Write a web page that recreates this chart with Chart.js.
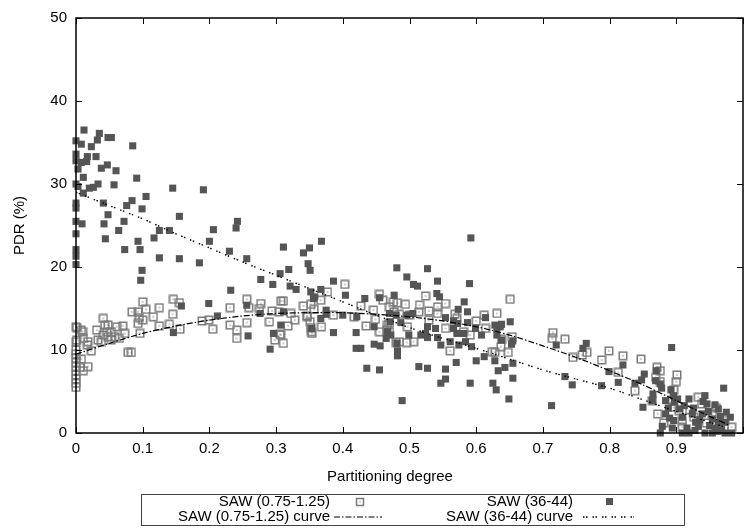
<!DOCTYPE html>
<html>
<head>
<meta charset="utf-8">
<script src="https://cdn.jsdelivr.net/npm/chart.js@4/dist/chart.umd.min.js"></script>
<style>
html, body { margin: 0; padding: 0; background: #fff; }
#wrap { position: relative; width: 750px; height: 531px; font-family: "Liberation Sans", Arial, sans-serif; font-size: 15px; color: #000; }
#chart { position: absolute; left: 0; top: 0; }
#xtitle { position: absolute; left: 290px; width: 200px; top: 468px; text-align: center; line-height: 15px; }
#legend { position: absolute; left: 141px; top: 494px; width: 544px; height: 32px; border: 1px solid #444; box-sizing: border-box; }
.item { position: absolute; white-space: nowrap; line-height: 15px; }
#samples { position: absolute; left: 0; top: 0; }
</style>
</head>
<body>
<div id="wrap">
  <canvas id="chart" width="750" height="531"></canvas>
  <div id="xtitle">Partitioning degree</div>
  <div id="legend"></div>
  <div class="item" style="right:420px;top:493px">SAW (0.75-1.25)</div>
  <div class="item" style="right:420px;top:508px">SAW (0.75-1.25) curve</div>
  <div class="item" style="right:177px;top:493px">SAW (36-44)</div>
  <div class="item" style="right:177px;top:508px">SAW (36-44) curve</div>
  <svg id="samples" width="750" height="531">
    <rect x="356.5" y="498.5" width="7" height="7" fill="none" stroke="#7a7a7a" stroke-width="1.5"/>
    <rect x="359.5" y="501.5" width="1" height="1" fill="#333"/>
    <line x1="334" y1="517" x2="382" y2="517" stroke="#000" stroke-width="1.2" stroke-dasharray="6 2 1.5 2"/>
    <rect x="606" y="498" width="7" height="7" fill="#555"/>
    <line x1="583" y1="517" x2="634" y2="517" stroke="#000" stroke-width="1.4" stroke-dasharray="1.5 1.5 1.5 5"/>
  </svg>
</div>
<script>
// measured points, [partitioning degree, PDR %]
const sawLowPoints = [
  [0,12.8],[0,11.0],[0,10.0],[0,9.5],[0,9.0],[0,8.5],[0,8.0],[0,7.5],[0,7.0],[0,6.5],[0,6.0],[0,5.5],
  [0.001,12.7],[0.001,11.2],[0.006,7.9],[0.008,12.4],[0.008,8.9],[0.010,12.2],[0.011,11.4],[0.011,7.5],
  [0.017,10.6],[0.018,11.0],[0.018,8.0],[0.023,9.9],[0.031,12.4],[0.033,11.2],[0.038,11.0],[0.041,13.8],
  [0.041,11.8],[0.043,13.0],[0.046,12.2],[0.048,13.0],[0.048,11.6],[0.053,12.2],[0.053,11.2],[0.058,11.6],
  [0.061,12.8],[0.065,11.4],[0.070,12.9],[0.073,12.0],[0.078,9.7],[0.083,9.7],[0.084,14.6],[0.093,14.6],
  [0.093,13.2],[0.095,13.9],[0.096,12.0],[0.100,15.8],[0.100,13.6],[0.105,14.9],[0.116,14.0],[0.125,15.1],
  [0.125,12.9],[0.140,13.1],[0.145,14.3],[0.146,16.1],[0.155,15.7],[0.156,12.5],[0.189,13.5],[0.199,13.6],
  [0.205,12.5],[0.231,15.1],[0.231,13.0],[0.241,12.4],[0.241,11.4],[0.256,16.1],[0.256,13.3],[0.259,15.1],
  [0.275,15.0],[0.277,15.6],[0.290,13.4],[0.294,14.7],[0.298,11.2],[0.304,14.6],[0.306,11.9],[0.307,15.9],
  [0.307,11.8],[0.311,15.9],[0.311,10.8],[0.318,12.9],[0.322,14.4],[0.328,13.6],[0.341,15.3],[0.346,14.1],
  [0.347,14.0],[0.351,13.4],[0.352,15.5],[0.352,12.7],[0.353,12.2],[0.354,12.0],[0.357,14.9],[0.367,16.0],
  [0.368,12.8],[0.377,17.0],[0.386,14.2],[0.403,17.9],[0.417,14.0],[0.427,15.3],[0.435,12.9],[0.446,14.8],
  [0.449,13.7],[0.455,16.7],[0.455,12.2],[0.460,16.0],[0.466,12.4],[0.467,13.0],[0.470,15.2],[0.470,13.2],
  [0.470,12.2],[0.476,15.8],[0.477,14.6],[0.480,10.9],[0.482,15.7],[0.485,14.3],[0.485,11.0],[0.494,15.5],
  [0.496,10.9],[0.497,12.8],[0.500,14.2],[0.506,11.0],[0.514,14.6],[0.515,15.4],[0.524,16.5],[0.529,14.7],
  [0.529,13.6],[0.542,15.2],[0.542,14.4],[0.554,15.6],[0.554,12.6],[0.561,9.9],[0.568,14.3],[0.571,13.8],
  [0.581,12.2],[0.591,11.8],[0.600,13.5],[0.612,14.2],[0.614,12.6],[0.624,9.8],[0.628,9.7],[0.631,14.4],
  [0.637,10.4],[0.638,11.3],[0.648,9.7],[0.651,16.1],[0.654,11.6],[0.714,11.4],[0.715,12.1],[0.733,11.3],
  [0.745,9.1],[0.759,9.4],[0.766,9.7],[0.788,8.8],[0.799,9.9],[0.813,7.3],[0.820,9.3],[0.838,5.1],
  [0.847,8.9],[0.864,3.9],[0.869,6.7],[0.871,7.9],[0.872,2.3],[0.876,7.5],[0.876,6.2],[0.881,1.2],
  [0.894,4.0],[0.896,5.2],[0.896,3.1],[0.900,6.2],[0.901,7.0],[0.904,2.7],[0.909,1.5],[0.909,0.7],
  [0.920,2.8],[0.926,1.9],[0.933,4.3],[0.938,3.5],[0.945,1.2],[0.954,2.3],[0.960,3.0],[0.965,0.5],
  [0.973,1.5],[0.983,0.7]
];

const sawHighPoints = [
  [0,35.2],[0,33.6],[0,32.8],[0,30.0],[0,27.7],[0,27.1],[0,25.5],[0,24.0],[0,22.1],[0,21.3],[0,20.3],
  [0.003,31.8],[0.003,29.7],[0.008,34.8],[0.008,32.6],[0.009,25.2],[0.011,30.8],[0.011,28.9],[0.012,36.5],
  [0.016,32.7],[0.017,33.3],[0.020,29.5],[0.023,34.5],[0.026,29.6],[0.030,33.3],[0.032,35.3],[0.033,30.0],
  [0.035,36.1],[0.038,31.9],[0.041,27.7],[0.042,25.2],[0.044,23.4],[0.047,32.3],[0.048,35.6],[0.048,26.3],
  [0.053,35.6],[0.057,29.9],[0.060,31.6],[0.064,24.4],[0.072,25.5],[0.073,22.1],[0.076,27.4],[0.084,28.0],
  [0.085,34.6],[0.091,30.7],[0.093,23.1],[0.096,22.1],[0.097,18.4],[0.099,27.0],[0.099,19.6],[0.105,28.5],
  [0.117,23.5],[0.125,24.4],[0.125,21.1],[0.140,24.4],[0.145,29.5],[0.146,12.1],[0.155,26.1],[0.155,21.0],
  [0.158,15.3],[0.185,20.5],[0.191,29.3],[0.199,15.6],[0.200,23.1],[0.206,24.5],[0.212,14.1],[0.230,21.9],
  [0.232,17.2],[0.240,24.7],[0.242,25.5],[0.256,21.0],[0.256,15.4],[0.258,11.7],[0.276,14.4],[0.277,18.5],
  [0.291,10.1],[0.295,17.9],[0.296,12.0],[0.306,19.2],[0.307,13.0],[0.311,22.4],[0.311,14.6],[0.319,19.7],
  [0.321,17.7],[0.330,17.3],[0.341,21.7],[0.348,20.4],[0.350,22.3],[0.351,19.6],[0.352,17.0],[0.353,12.6],
  [0.356,16.2],[0.358,16.4],[0.367,17.3],[0.367,13.8],[0.368,23.1],[0.375,14.8],[0.375,14.3],[0.386,18.3],
  [0.386,12.1],[0.400,14.2],[0.404,16.6],[0.420,12.1],[0.420,10.2],[0.421,14.0],[0.427,10.2],[0.433,16.2],
  [0.436,7.8],[0.447,12.8],[0.447,10.7],[0.455,16.3],[0.455,7.6],[0.456,10.5],[0.465,11.4],[0.467,12.2],
  [0.470,14.4],[0.471,13.4],[0.472,11.8],[0.477,16.6],[0.480,14.2],[0.481,19.9],[0.481,10.8],[0.482,9.9],
  [0.482,9.3],[0.487,13.3],[0.489,3.9],[0.496,18.8],[0.496,14.2],[0.499,11.8],[0.505,14.4],[0.506,17.9],
  [0.512,17.7],[0.514,8.0],[0.517,11.8],[0.524,12.0],[0.527,19.8],[0.527,12.8],[0.527,11.5],[0.527,7.8],
  [0.539,12.6],[0.541,16.8],[0.542,18.3],[0.542,11.5],[0.545,16.4],[0.547,10.6],[0.547,6.0],[0.554,13.9],
  [0.554,7.7],[0.554,6.5],[0.561,11.0],[0.566,13.5],[0.566,12.6],[0.570,8.5],[0.571,12.0],[0.572,13.2],
  [0.573,14.9],[0.574,10.6],[0.581,12.0],[0.582,15.8],[0.584,11.0],[0.587,14.6],[0.587,13.3],[0.590,18.0],
  [0.591,6.0],[0.592,23.5],[0.593,10.4],[0.599,12.6],[0.600,8.7],[0.608,11.8],[0.612,9.2],[0.614,13.9],
  [0.625,6.0],[0.628,13.0],[0.628,8.7],[0.630,5.2],[0.631,12.6],[0.631,11.8],[0.633,7.5],[0.636,12.8],
  [0.638,13.1],[0.638,11.2],[0.643,7.9],[0.649,4.1],[0.651,13.4],[0.653,10.7],[0.655,11.1],[0.655,8.4],
  [0.655,6.6],[0.713,3.3],[0.720,10.6],[0.733,6.8],[0.744,5.8],[0.760,10.2],[0.765,10.8],[0.788,5.7],
  [0.799,7.4],[0.813,6.1],[0.820,8.2],[0.838,6.0],[0.848,6.4],[0.850,3.1],[0.852,7.1],[0.864,3.9],
  [0.865,4.7],[0.869,6.3],[0.870,7.5],[0.876,5.9],[0.878,5.4],[0.884,3.9],[0.884,2.3],[0.888,3.0],
  [0.890,1.8],[0.892,5.2],[0.893,10.3],[0.896,4.5],[0.896,1.5],[0.897,3.7],[0.902,4.1],[0.905,2.9],
  [0.909,1.9],[0.912,3.3],[0.919,4.1],[0.924,2.3],[0.926,3.0],[0.929,1.3],[0.935,1.6],[0.939,2.3],
  [0.940,3.8],[0.943,4.5],[0.946,3.5],[0.948,2.6],[0.950,0.9],[0.954,1.7],[0.958,3.4],[0.963,2.9],
  [0.963,1.2],[0.966,2.0],[0.971,5.4],[0.973,1.3],[0.975,2.5],[0.981,1.9],
  [0.876,0],[0.909,0],[0.919,0],[0.943,0],[0.954,0],[0.973,0],[0.983,0],
  [0.879,0.8],[0.894,0.6],[0.916,0.6],[0.928,0.3],[0.933,0.8],[0.958,0.6],[0.962,0.2],[0.968,0.4]
];

// fitted curves
const curveX    = [0, 0.05, 0.1, 0.15, 0.2, 0.25, 0.3, 0.35, 0.4, 0.45, 0.5, 0.55, 0.6, 0.65, 0.7, 0.75, 0.8, 0.85, 0.9, 0.95, 0.978];
const curveLowY = [9.5, 10.8, 12.0, 12.9, 13.6, 14.1, 14.4, 14.5, 14.5, 14.3, 14.0, 13.5, 12.8, 11.8, 10.5, 9.1, 7.5, 5.8, 3.9, 2.0, 1.0];
const curveHighY = [29.0, 27.4, 25.8, 24.0, 22.3, 20.6, 19.0, 17.4, 15.8, 14.2, 12.7, 11.4, 10.2, 8.9, 7.6, 6.5, 5.4, 4.0, 2.6, 1.3, 0.6];

const xTicksMax = 1;
const yTicksMax = 50;

function makeOpenMarker() {
    const c = document.createElement('canvas');
    c.width = 10; c.height = 10;
    const g = c.getContext('2d');
    g.strokeStyle = '#7a7a7a';
    g.lineWidth = 1.5;
    g.strokeRect(1.25, 1.25, 7.5, 7.5);
    g.fillStyle = '#333';
    g.fillRect(4.5, 4.5, 1, 1);
    return c;
}

// gnuplot style border with inward ticks on all four sides
const framePlugin = {
    id: 'frame',
    afterDatasetsDraw(chart) {
        const { ctx, chartArea: a, scales: { x, y } } = chart;
        ctx.save();
        ctx.strokeStyle = '#000';
        ctx.lineWidth = 1;
        ctx.beginPath();
        x.ticks.forEach(t => {
            const px = Math.round(x.getPixelForValue(t.value)) + 0.5;
            ctx.moveTo(px, a.bottom); ctx.lineTo(px, a.bottom - 6);
            ctx.moveTo(px, a.top); ctx.lineTo(px, a.top + 6);
        });
        y.ticks.forEach(t => {
            const py = Math.round(y.getPixelForValue(t.value)) + 0.5;
            ctx.moveTo(a.left, py); ctx.lineTo(a.left + 6, py);
            ctx.moveTo(a.right, py); ctx.lineTo(a.right - 6, py);
        });
        ctx.stroke();
        ctx.lineWidth = 1.5;
        ctx.strokeRect(a.left, a.top, a.right - a.left, a.bottom - a.top);
        ctx.restore();
    }
};

Chart.defaults.font.family = '"Liberation Sans", Arial, sans-serif';
Chart.defaults.font.size = 15;
Chart.defaults.color = '#000';

const ctx = document.getElementById('chart').getContext('2d');
new Chart(ctx, {
    type: 'scatter',
    data: {
        datasets: [
            {
                label: 'SAW (36-44) curve',
                type: 'line',
                data: curveX.map((x, i) => ({ x, y: curveHighY[i] })),
                borderColor: '#000',
                borderWidth: 1.4,
                borderDash: [1.5, 1.5, 1.5, 5],
                pointRadius: 0,
                fill: false,
                tension: 0.3,
                order: 0,
                clip: false
            },
            {
                label: 'SAW (0.75-1.25) curve',
                type: 'line',
                data: curveX.map((x, i) => ({ x, y: curveLowY[i] })),
                borderColor: '#000',
                borderWidth: 1.2,
                borderDash: [6, 2, 1.5, 2],
                pointRadius: 0,
                fill: false,
                tension: 0.3,
                order: 1,
                clip: false
            },
            {
                label: 'SAW (36-44)',
                data: sawHighPoints.map(p => ({ x: p[0], y: p[1] })),
                pointStyle: 'rect',
                pointRadius: 5,
                pointBackgroundColor: '#555',
                pointBorderWidth: 0,
                order: 2,
                clip: false
            },
            {
                label: 'SAW (0.75-1.25)',
                data: sawLowPoints.map(p => ({ x: p[0], y: p[1] })),
                pointStyle: makeOpenMarker(),
                pointRadius: 4,
                order: 3,
                clip: false
            }
        ]
    },
    options: {
        responsive: false,
        animation: false,
        events: [],
        layout: { padding: { top: 12, right: 2, bottom: 0, left: 0 }, autoPadding: false },
        plugins: { legend: { display: false }, tooltip: { enabled: false } },
        scales: {
            x: {
                type: 'linear',
                min: 0,
                max: xTicksMax,
                grid: { display: false, drawTicks: false },
                border: { display: false },
                ticks: {
                    stepSize: 0.1,
                    padding: 7,
                    maxRotation: 0,
                    autoSkip: false,
                    callback: v => v >= xTicksMax - 0.001 ? '' : String(Number(v.toFixed(1)))
                },
                afterFit: s => { s.height = 98; }
            },
            y: {
                min: 0,
                max: yTicksMax,
                grid: { display: false, drawTicks: false },
                border: { display: false },
                ticks: { stepSize: 10, padding: 9 },
                title: { display: true, text: 'PDR (%)', padding: { top: 11, bottom: 0 } },
                afterFit: s => { s.width = 76; }
            }
        }
    },
    plugins: [framePlugin]
});
</script>
</body>
</html>
